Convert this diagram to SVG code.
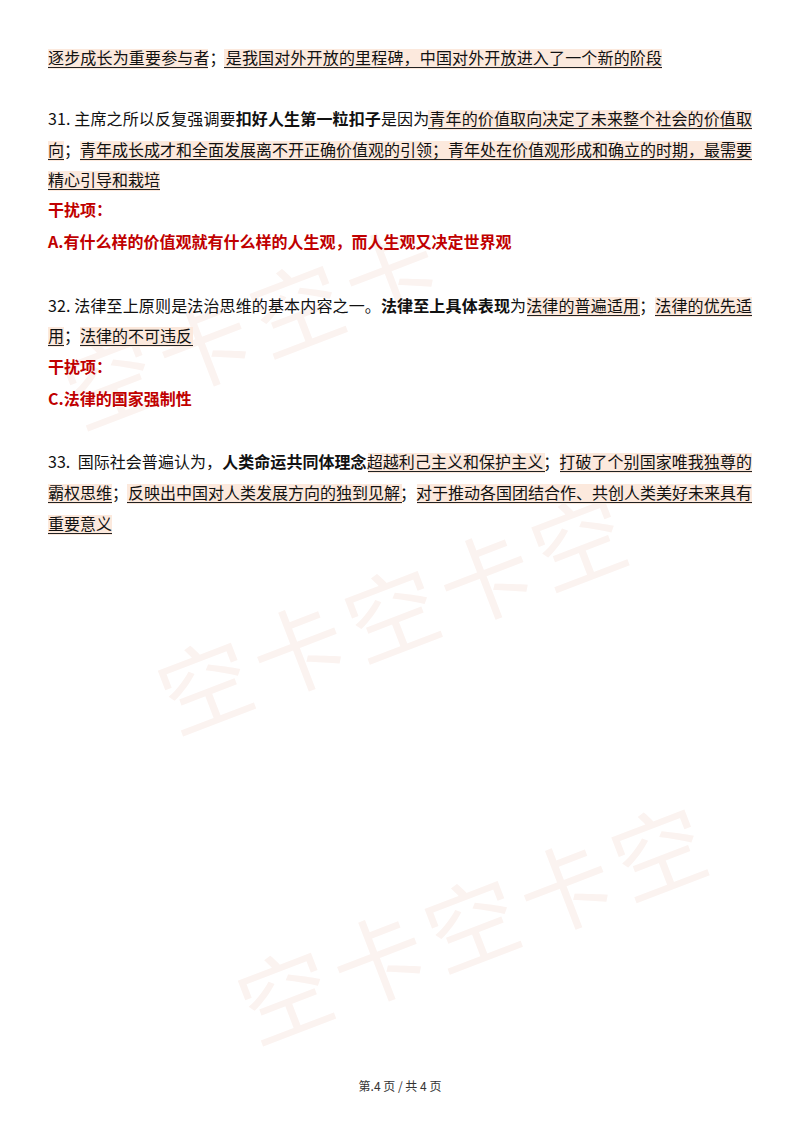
<svg xmlns="http://www.w3.org/2000/svg" width="800" height="1132" viewBox="0 0 800 1132">
<style>
.t{font-family:"Noto Sans CJK SC","Liberation Sans",sans-serif;font-size:16px;fill:#111}
.b{font-weight:bold}
.r{fill:#c00000;font-weight:bold}
.wm{font-family:"Noto Sans CJK SC",sans-serif;font-size:92px;fill:#fbf3f0}
.hl{fill:#fce9dd}
.ul{stroke:#222;stroke-width:1}
</style>
<rect width="800" height="1132" fill="#fff"/>
<g id="watermark">
<text class="wm" transform="translate(80,430) rotate(-21)" letter-spacing="8">空卡空卡</text>
<text class="wm" transform="translate(175,735) rotate(-21)" letter-spacing="8">空卡空卡空</text>
<text class="wm" transform="translate(255,1045) rotate(-21)" letter-spacing="8">空卡空卡空</text>
</g>
<g id="highlights">
<rect class="hl" x="48" y="49" width="160" height="20"/><rect class="hl" x="224" y="49" width="438" height="20"/>
<rect class="hl" x="428" y="110" width="324" height="20"/>
<rect class="hl" x="48" y="141" width="16" height="20"/><rect class="hl" x="80" y="141" width="672" height="20"/>
<rect class="hl" x="48" y="171" width="112" height="20"/>
<rect class="hl" x="527" y="297" width="113" height="20"/><rect class="hl" x="655" y="297" width="97" height="20"/>
<rect class="hl" x="48" y="327" width="16" height="20"/><rect class="hl" x="80" y="327" width="113" height="20"/>
<rect class="hl" x="368" y="453" width="177" height="20"/><rect class="hl" x="560" y="453" width="192" height="20"/>
<rect class="hl" x="48" y="484" width="64" height="20"/><rect class="hl" x="127" y="484" width="275" height="20"/><rect class="hl" x="417" y="484" width="335" height="20"/>
<rect class="hl" x="48" y="515" width="64" height="20"/>
</g>
<g id="underlines">
<path class="ul" d="M48 67.5H208M224 67.5H662M428 128.5H752M48 159.5H64M80 159.5H752M48 189.5H160M527 315.5H640M655 315.5H752M48 345.5H64M80 345.5H193M368 471.5H545M560 471.5H752M48 502.5H112M127 502.5H402M417 502.5H752M48 533.5H112"/>
</g>
<g id="text">
<text class="t" x="48" y="64" textLength="614" lengthAdjust="spacing">逐步成长为重要参与者；是我国对外开放的里程碑，中国对外开放进入了一个新的阶段</text>
<text class="t" x="48" y="125" textLength="704" lengthAdjust="spacing">31. 主席之所以反复强调要<tspan class="b">扣好人生第一粒扣子</tspan>是因为青年的价值取向决定了未来整个社会的价值取</text>
<text class="t" x="48" y="156" textLength="704" lengthAdjust="spacing">向；青年成长成才和全面发展离不开正确价值观的引领；青年处在价值观形成和确立的时期，最需要</text>
<text class="t" x="48" y="186">精心引导和栽培</text>
<text class="t r" x="48" y="216">干扰项：</text>
<text class="t r" x="48" y="248">A.有什么样的价值观就有什么样的人生观，而人生观又决定世界观</text>
<text class="t" x="48" y="312" textLength="704" lengthAdjust="spacing">32. 法律至上原则是法治思维的基本内容之一。<tspan class="b">法律至上具体表现</tspan>为法律的普遍适用；法律的优先适</text>
<text class="t" x="48" y="342">用；法律的不可违反</text>
<text class="t r" x="48" y="373">干扰项：</text>
<text class="t r" x="48" y="405">C.法律的国家强制性</text>
<text class="t" x="48" y="468" textLength="704" lengthAdjust="spacing">33.&#160; 国际社会普遍认为，<tspan class="b">人类命运共同体理念</tspan>超越利己主义和保护主义；打破了个别国家唯我独尊的</text>
<text class="t" x="48" y="499" textLength="704" lengthAdjust="spacing">霸权思维；反映出中国对人类发展方向的独到见解；对于推动各国团结合作、共创人类美好未来具有</text>
<text class="t" x="48" y="530">重要意义</text>
<text class="t" x="400" y="1091" text-anchor="middle" style="font-size:12px;fill:#333">第.4 页 / 共 4 页</text>
</g>
</svg>
